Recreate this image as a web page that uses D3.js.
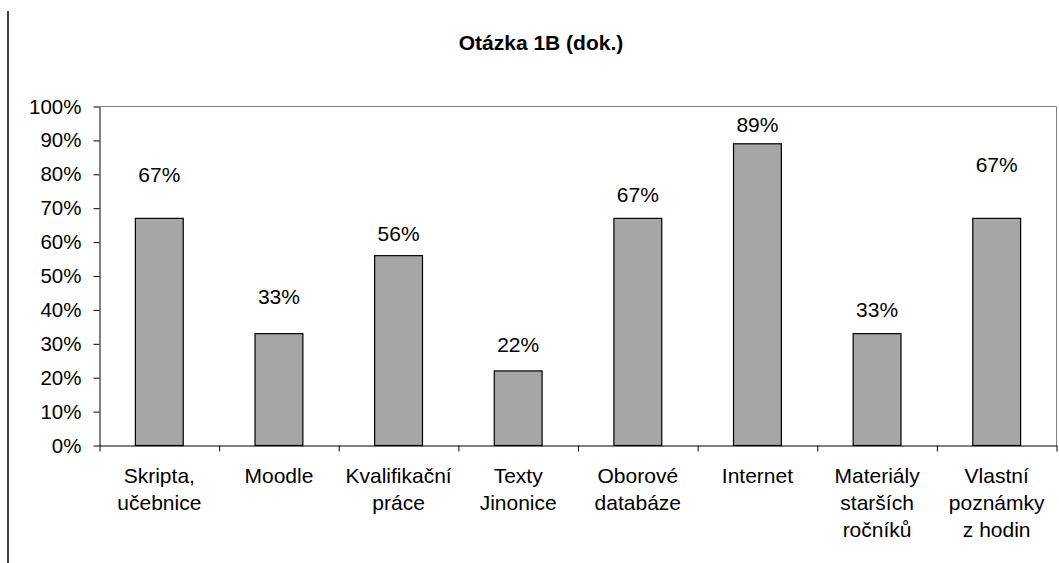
<!DOCTYPE html>
<html>
<head>
<meta charset="utf-8">
<script src="https://cdn.jsdelivr.net/npm/d3@7"></script>
<style>
html,body{margin:0;padding:0;background:#fff;}
svg{display:block;}
text{font-family:"Liberation Sans",Arial,sans-serif;fill:#000;}
</style>
</head>
<body>
<svg id="chart" width="1059" height="563"></svg>
<script>
const title = "Otázka 1B (dok.)";
const categories = [
  ["Skripta,", "učebnice"],
  ["Moodle"],
  ["Kvalifikační", "práce"],
  ["Texty", "Jinonice"],
  ["Oborové", "databáze"],
  ["Internet"],
  ["Materiály", "starších", "ročníků"],
  ["Vlastní", "poznámky", "z hodin"]
];
const values = [0.67, 0.33, 0.56, 0.22, 0.67, 0.89, 0.33, 0.67];
const valueLabels = ["67%", "33%", "56%", "22%", "67%", "89%", "33%", "67%"];
const tickValues = [0, 0.1, 0.2, 0.3, 0.4, 0.5, 0.6, 0.7, 0.8, 0.9, 1.0];
// vertical anchor of each value label, in axis units
const labelAnchor = [0.80, 0.44, 0.625, 0.298, 0.74, 0.946, 0.401, 0.829];

const svg = d3.select("#chart");
const pLeft = 99.5, pRight = 1056.5, pTop = 106.5, pBottom = 445.5;

const x = d3.scaleBand().domain(d3.range(categories.length)).range([pLeft, pRight]).paddingInner(0.6).paddingOuter(0.3);
const xb = d3.scaleLinear().domain([0, categories.length]).range([pLeft, pRight]);
const y = d3.scaleLinear().domain([0, 1]).range([pBottom, pTop]);

// outer left line
svg.append("line").attr("x1", 8).attr("x2", 8).attr("y1", 11).attr("y2", 563)
  .attr("stroke", "#000").attr("stroke-width", 1.5);

// title
svg.append("text").attr("x", 541).attr("y", 50).attr("text-anchor", "middle")
  .attr("font-size", 21).attr("font-weight", "bold").text(title);

// plot frame (top & right)
svg.append("path").attr("d", `M${pLeft},${pTop}H${pRight}V${pBottom}`)
  .attr("fill", "none").attr("stroke", "#808080").attr("stroke-width", 1);

// bars
svg.selectAll("rect.bar").data(values).enter().append("rect")
  .attr("class", "bar")
  .attr("x", (d, i) => x(i))
  .attr("width", x.bandwidth())
  .attr("y", d => y(d))
  .attr("height", d => y(0) - y(d))
  .attr("fill", "#a6a6a6").attr("stroke", "#000").attr("stroke-width", 1.2);

// value labels
svg.selectAll("text.vl").data(valueLabels).enter().append("text")
  .attr("class", "vl")
  .attr("x", (d, i) => x(i) + x.bandwidth() / 2)
  .attr("y", (d, i) => y(labelAnchor[i]))
  .attr("dy", "0.35em")
  .attr("text-anchor", "middle").attr("font-size", 21)
  .text(d => d);

// y axis
const yAxis = d3.axisLeft(y).tickValues(tickValues).tickFormat(d3.format(".0%")).tickSize(6).tickSizeOuter(0).tickPadding(12);
const gy = svg.append("g").attr("transform", `translate(${pLeft},0)`).call(yAxis);
gy.select(".domain").attr("stroke", "#000");
gy.selectAll(".tick line").attr("stroke", "#000");
gy.selectAll(".tick text").attr("font-size", 20.5).attr("font-family", "Liberation Sans, Arial, sans-serif").attr("fill", "#000");

// x axis (ticks at band boundaries)
const xAxis = d3.axisBottom(xb).tickValues(d3.range(categories.length + 1)).tickFormat("").tickSize(6).tickSizeOuter(0);
const gx = svg.append("g").attr("transform", `translate(0,${pBottom})`).call(xAxis);
gx.select(".domain").attr("stroke", "#000");
gx.selectAll(".tick line").attr("stroke", "#000");

// category labels
const cl = svg.selectAll("text.cat").data(categories).enter().append("text")
  .attr("class", "cat")
  .attr("x", (d, i) => x(i) + x.bandwidth() / 2)
  .attr("y", 483)
  .attr("text-anchor", "middle").attr("font-size", 21);
cl.selectAll("tspan").data(d => d).enter().append("tspan")
  .attr("x", function () { return d3.select(this.parentNode).attr("x"); })
  .attr("dy", (d, j) => j === 0 ? 0 : 27)
  .text(d => d);
</script>
</body>
</html>
